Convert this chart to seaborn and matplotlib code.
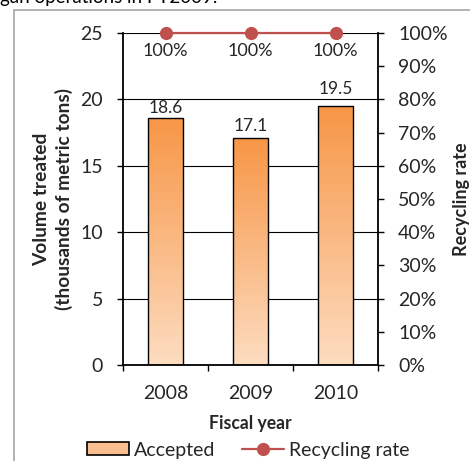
import numpy as np
import matplotlib
matplotlib.use("Agg")
import matplotlib.pyplot as plt
import seaborn as sns
from matplotlib.colors import LinearSegmentedColormap
from matplotlib.patches import Rectangle, Patch
from matplotlib.lines import Line2D
from matplotlib.ticker import PercentFormatter

# Data
years = ["2008", "2009", "2010"]
accepted = [18.6, 17.1, 19.5]          # thousands of metric tons
recycling_rate = [1.00, 1.00, 1.00]    # share recycled

sns.set_style("white")
plt.rcParams["font.family"] = ["Lato", "DejaVu Sans"]

BAR_TOP = "#F79646"
BAR_BOTTOM = "#FDDCC0"
LINE_RED = "#C0504D"
FS = 14

fig = plt.figure(figsize=(4.70, 4.61), dpi=100)
ax = fig.add_axes([123 / 470, 1 - 365 / 461, (378 - 123) / 470, (365 - 33) / 461])

# Outer frame of the chart area (runs off the right and bottom edges)
fig.patches.append(Rectangle((14 / 470, -0.2), 1.2, 1 - 10 / 461 + 0.2,
                             transform=fig.transFigure, fill=False,
                             edgecolor="#A6A6A6", linewidth=1.2, zorder=0))
fig.text(0.0, 1 - 3 / 461, "gan operations in FY2009.", fontsize=13.5,
         ha="left", va="baseline", color="black")

# Bars
sns.barplot(x=years, y=accepted, ax=ax, width=0.41, color=BAR_TOP,
            edgecolor="black", linewidth=1.0, zorder=2)

cmap = LinearSegmentedColormap.from_list("bar_grad", [BAR_BOTTOM, BAR_TOP])
grad = np.linspace(0, 1, 256).reshape(-1, 1)
for bar in list(ax.patches):
    x0, y0 = bar.get_xy()
    w, h = bar.get_width(), bar.get_height()
    im = ax.imshow(grad, extent=[x0, x0 + w, y0, y0 + h], origin="lower",
                   cmap=cmap, aspect="auto", zorder=1.9, interpolation="bilinear")
    im.set_clip_path(bar)
    bar.set_facecolor("none")

# value labels, lifted clear of the gridlines
label_lift = [1.5, 2.5, 6.5]
for i, v in enumerate(accepted):
    ax.annotate(f"{v:.1f}", (i, v), xytext=(0, label_lift[i]),
                textcoords="offset points", ha="center", va="bottom",
                fontsize=12.5)

ax.set_xlim(-0.5, 2.5)
ax.set_ylim(0, 25)
ax.set_yticks(np.arange(0, 26, 5))
ax.set_xticks([-0.5, 0.5, 1.5, 2.5])
ax.set_xticklabels([])
ax.set_xticks(range(len(years)), minor=True)
ax.set_xticklabels(years, minor=True)
ax.tick_params(axis="x", which="major", direction="out", length=4.5, width=1.0,
               color="black", bottom=True)
ax.tick_params(axis="x", which="minor", length=0, pad=14.5, labelsize=FS)
ax.tick_params(axis="y", direction="out", length=4.5, width=1.0, color="black",
               left=True, pad=10, labelsize=FS)
ax.yaxis.grid(True, color="black", linewidth=0.8)
ax.set_axisbelow(True)
for s in ["top", "right"]:
    ax.spines[s].set_visible(False)
for s in ["left", "bottom"]:
    ax.spines[s].set_color("black")
    ax.spines[s].set_linewidth(1.3)

ax.set_xlabel("Fiscal year", fontsize=12.7, fontweight="bold", labelpad=9)
ax.set_ylabel("Volume treated\n(thousands of metric tons)", fontsize=13.8,
              fontweight="bold", labelpad=5, linespacing=1.35)

# Recycling rate on the secondary axis
ax2 = ax.twinx()
sns.lineplot(x=np.arange(len(years)), y=recycling_rate, ax=ax2, color=LINE_RED,
             marker="o", markersize=9.5, markeredgewidth=0, linewidth=1.6,
             clip_on=False, zorder=5)
ax2.set_ylim(0, 1)
ax2.set_yticks(np.arange(0, 1.01, 0.1))
ax2.yaxis.set_major_formatter(PercentFormatter(1.0, decimals=0))
ax2.tick_params(axis="y", direction="out", length=4.5, width=1.0, color="black",
                right=True, pad=10, labelsize=FS)
for s in ["top", "left", "bottom"]:
    ax2.spines[s].set_visible(False)
ax2.spines["right"].set_color("black")
ax2.spines["right"].set_linewidth(1.3)
ax2.set_ylabel("Recycling rate", fontsize=13, fontweight="bold", labelpad=4)
ax2.set_xlim(-0.5, 2.5)

for i, r in enumerate(recycling_rate):
    ax2.annotate(f"{r:.0%}", (i, r), xytext=(0, -7.5), textcoords="offset points",
                 ha="center", va="top", fontsize=13)

legend_handles = [
    Patch(facecolor="#FBBE8E", edgecolor="black", linewidth=1.2, label="Accepted"),
    Line2D([], [], color=LINE_RED, marker="o", markersize=9.5, markeredgewidth=0,
           linewidth=1.6, label="Recycling rate"),
]
fig.legend(handles=legend_handles, loc="center", ncol=2, frameon=False,
           bbox_to_anchor=(0.528, 1 - 450 / 461), fontsize=FS, handlelength=2.15,
           handleheight=0.62, handletextpad=0.26, columnspacing=1.4)

fig.savefig("out.png", dpi=100)
